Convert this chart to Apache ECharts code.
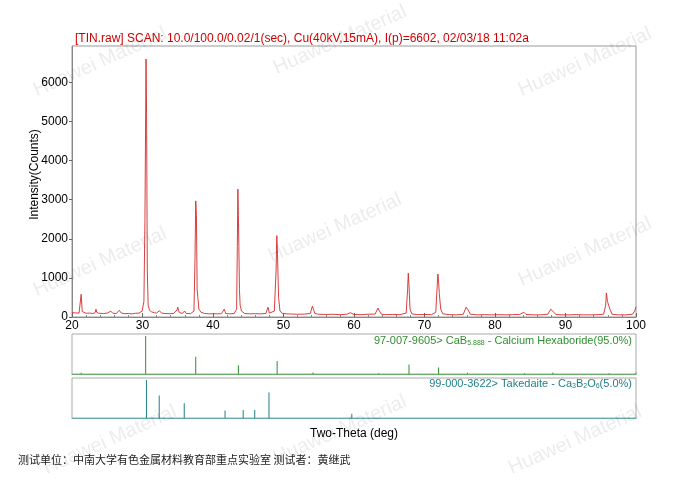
<!DOCTYPE html>
<html>
<head>
<meta charset="utf-8">
<script src="https://cdn.jsdelivr.net/npm/echarts@6/dist/echarts.min.js"></script>
<style>html,body{margin:0;padding:0;background:#fff}#c{width:680px;height:480px}</style>
</head>
<body>
<div id="c"></div>
<script>
// Measured pattern: [2-theta (deg), intensity (counts)]
const pattern = [
[20.0,110],[20.5,105],[21.0,100],[21.15,130],[21.3,580],[21.45,140],[21.6,100],[22.0,95],[22.5,100],[23.0,90],[23.3,120],[23.4,200],[23.5,120],[23.8,95],[24.5,90],[25.0,100],[25.5,150],[25.8,95],[26.3,90],[26.7,170],[27.0,100],[27.5,85],[28.0,90],[28.5,80],[29.0,95],[29.5,100],[29.95,150],[30.2,400],[30.35,2500],[30.5,6600],[30.58,5200],[30.68,1200],[30.8,300],[31.0,170],[31.3,130],[31.7,110],[32.0,100],[32.4,160],[32.7,100],[33.2,90],[33.8,85],[34.4,90],[34.9,180],[35.0,250],[35.2,120],[35.6,90],[36.0,150],[36.2,90],[36.8,85],[37.3,150],[37.45,1500],[37.55,2970],[37.65,2600],[37.75,700],[37.85,500],[38.0,200],[38.3,120],[38.8,90],[39.5,80],[40.0,85],[40.6,80],[41.2,85],[41.6,200],[41.8,90],[42.4,80],[43.0,90],[43.35,200],[43.45,1800],[43.53,3270],[43.6,2600],[43.67,1800],[43.75,700],[43.85,300],[44.05,150],[44.5,90],[45.2,80],[46.0,85],[46.8,80],[47.5,90],[47.8,250],[48.0,100],[48.7,150],[48.95,1200],[49.05,2080],[49.15,1600],[49.3,500],[49.5,150],[49.9,90],[50.5,80],[51.2,75],[52.0,70],[53.0,75],[53.8,90],[54.1,280],[54.25,200],[54.45,90],[55.0,70],[56.0,65],[57.0,70],[58.0,60],[59.0,70],[59.5,110],[60.0,65],[61.0,60],[62.0,70],[63.0,75],[63.4,230],[63.6,150],[63.9,70],[64.5,60],[65.5,65],[66.5,60],[67.4,100],[67.6,700],[67.7,1120],[67.8,800],[67.95,200],[68.2,80],[69.0,60],[70.0,65],[71.0,60],[71.6,120],[71.8,800],[71.9,1100],[72.0,900],[72.1,600],[72.3,200],[72.6,80],[73.5,60],[74.5,55],[75.5,70],[75.9,250],[76.0,300],[76.2,180],[76.5,70],[77.5,55],[78.5,60],[79.5,55],[80.5,60],[81.5,55],[82.5,60],[83.5,65],[84.1,120],[84.4,65],[85.5,55],[86.5,55],[87.5,70],[87.9,200],[88.0,250],[88.2,150],[88.6,65],[89.5,55],[90.5,55],[91.5,60],[92.5,55],[93.5,55],[94.5,60],[95.4,70],[95.7,300],[95.8,615],[95.95,400],[96.1,380],[96.3,200],[96.6,70],[97.5,55],[98.5,55],[99.5,70],[99.8,150],[100.0,260]
];
// Reference card 97-007-9605 CaB6 : [2-theta, relative intensity %]
const cab6Sticks = [[21.3,3],[30.45,100],[37.55,45],[43.6,23],[49.1,34],[54.2,4],[63.5,2],[67.8,25],[72.0,17],[76.1,3],[84.2,2],[88.2,4],[96.2,2],[100.0,3]];
// Reference card 99-000-3622 Takedaite : [2-theta, relative intensity %]
const takedaiteSticks = [[30.56,100],[32.37,59],[35.92,39],[41.71,20],[44.28,21],[45.92,21],[47.94,67],[59.69,11]];
const yTicks = [0,1000,2000,3000,4000,5000,6000];
const xTicks = [20,30,40,50,60,70,80,90,100];

const titleText = '[TIN.raw] SCAN: 10.0/100.0/0.02/1(sec), Cu(40kV,15mA), I(p)=6602, 02/03/18 11:02a';
const footerText = '测试单位：中南大学有色金属材料教育部重点实验室 测试者：黄继武';

const FONT = 'Liberation Sans, Arial, sans-serif';
const gridL = 72, gridW = 564;
const chart = echarts.init(document.getElementById('c'), null, {renderer:'canvas'});

const wm = [[100,62],[340,40],[585,62],[100,262],[335,228],[585,252],[110,440],[340,430],[575,440]];
const wmGraphics = wm.map(p => ({
  type:'text', x:p[0], y:p[1], rotation:0.42, z:100, silent:true,
  style:{text:'Huawei Material', fill:'rgba(0,0,0,0.08)', font:'20px ' + FONT, align:'center', verticalAlign:'middle'}
}));

const baseAxis = {
  type:'value', min:20, max:100, interval:10,
  axisLine:{show:true, lineStyle:{color:'#888', width:1}},
  splitLine:{show:false}
};

chart.setOption({
  animation:false,
  backgroundColor:'#fff',
  grid:[
    {left:gridL, top:46, width:gridW, height:271, show:true, borderColor:'#999', borderWidth:1},
    {left:gridL, top:334, width:gridW, height:40, show:true, borderColor:'#aaa', borderWidth:1},
    {left:gridL, top:378, width:gridW, height:40, show:true, borderColor:'#aaa', borderWidth:1}
  ],
  xAxis:[
    Object.assign({}, baseAxis, {gridIndex:0,
      axisTick:{show:true, inside:true, length:4, lineStyle:{color:'#666'}},
      minorTick:{show:true, splitNumber:5, length:2, lineStyle:{color:'#888'}},
      axisLabel:{show:true, color:'#000', fontSize:12, fontFamily:FONT, margin:3,
        formatter:v => xTicks.indexOf(v) >= 0 ? String(v) : ''}}),
    Object.assign({}, baseAxis, {gridIndex:1, axisLine:{show:true, lineStyle:{color:'#6aaa6a'}},
      axisTick:{show:false}, axisLabel:{show:false}}),
    Object.assign({}, baseAxis, {gridIndex:2, axisLine:{show:true, lineStyle:{color:'#6aaaaa'}},
      axisTick:{show:false}, axisLabel:{show:false},
      name:'Two-Theta (deg)', nameLocation:'middle', nameGap:10,
      nameTextStyle:{color:'#000', fontSize:12, fontFamily:FONT}})
  ],
  yAxis:[
    {type:'value', gridIndex:0, min:0, max:6932, interval:1000,
      axisLine:{show:true, lineStyle:{color:'#888'}},
      axisTick:{show:true, length:3, lineStyle:{color:'#666'}},
      splitLine:{show:false},
      axisLabel:{color:'#000', fontSize:12, fontFamily:FONT, margin:4, showMaxLabel:false,
        formatter:v => yTicks.indexOf(v) >= 0 ? String(v) : ''},
      name:'Intensity(Counts)', nameLocation:'middle', nameGap:31, nameMoveOverlap:false,
      nameTextStyle:{color:'#000', fontSize:12, fontFamily:FONT, padding:[0,0,0,14]}},
    {type:'value', gridIndex:1, min:0, max:105, show:false},
    {type:'value', gridIndex:2, min:0, max:105, show:false}
  ],
  series:[
    {type:'line', xAxisIndex:0, yAxisIndex:0, data:pattern, showSymbol:false, symbol:'none',
      lineStyle:{color:'#d42a2a', width:0.9}, silent:true},
    {type:'bar', xAxisIndex:1, yAxisIndex:1, data:cab6Sticks, barWidth:1, barGap:'-100%',
      itemStyle:{color:'#2f8f2f'}, silent:true},
    {type:'bar', xAxisIndex:2, yAxisIndex:2, data:takedaiteSticks, barWidth:1, barGap:'-100%',
      itemStyle:{color:'#1f7f86'}, silent:true}
  ],
  graphic:[
    {type:'text', left:75, top:33, style:{text:titleText, fill:'#d00000', font:'12px ' + FONT}},
    {type:'text', right:48, top:335, style:{
      text:'{a|97-007-9605> CaB}{s|5.888}{a| - Calcium Hexaboride(95.0%)}',
      rich:{a:{fill:'#2f8f2f', fontSize:11, fontFamily:FONT, lineHeight:14},
            s:{fill:'#2f8f2f', fontSize:7, fontFamily:FONT, lineHeight:14, padding:[5,0,0,0]}}}},
    {type:'text', right:48, top:378, style:{
      text:'{a|99-000-3622> Takedaite - Ca}{s|3}{a|B}{s|2}{a|O}{s|6}{a|(5.0%)}',
      rich:{a:{fill:'#1f7f86', fontSize:11, fontFamily:FONT, lineHeight:14},
            s:{fill:'#1f7f86', fontSize:7, fontFamily:FONT, lineHeight:14, padding:[5,0,0,0]}}}},
    {type:'text', left:18, top:454, style:{text:footerText, fill:'#222', font:'11px "Noto Sans CJK SC", sans-serif'}}
  ].concat(wmGraphics)
});
</script>
</body>
</html>
